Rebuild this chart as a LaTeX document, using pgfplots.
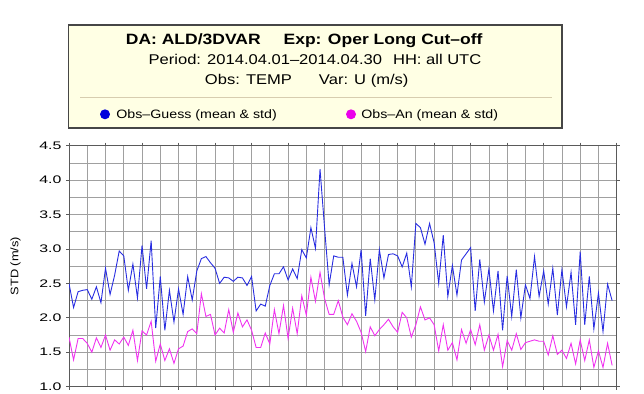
\documentclass[border=0pt]{standalone}
\usepackage{pgfplots}
\usepackage{pgfplotstable}
\pgfplotsset{compat=1.18}
\usepackage{fontspec}
\setmainfont{Liberation Sans}[FakeStretch=1.17]
\newfontfamily\tickfont{Liberation Sans}[FakeStretch=1.45]
\definecolor{boxfill}{RGB}{255,255,228}
\definecolor{boxedge}{RGB}{70,70,70}
\definecolor{sepline}{RGB}{215,205,175}
\definecolor{gridc}{RGB}{160,160,160}
\definecolor{framec}{RGB}{90,90,90}
\definecolor{gline}{RGB}{40,45,225}
\definecolor{aline}{RGB}{240,50,240}
\definecolor{gdot}{RGB}{0,0,220}
\definecolor{adot}{RGB}{235,0,235}

\pgfplotstableread{
i g a
0 2.50 1.72
1 2.15 1.39
2 2.38 1.70
3 2.40 1.70
4 2.41 1.63
5 2.27 1.50
6 2.45 1.71
7 2.22 1.57
8 2.72 1.75
9 2.34 1.53
10 2.62 1.68
11 2.97 1.62
12 2.90 1.72
13 2.40 1.60
14 2.78 1.82
15 2.29 1.38
16 3.05 1.81
17 2.42 1.75
18 3.12 1.95
19 1.85 1.37
20 2.60 1.62
21 1.82 1.38
22 2.40 1.55
23 1.94 1.34
24 2.42 1.55
25 2.05 1.59
26 2.60 1.80
27 2.26 1.84
28 2.68 1.77
29 2.86 2.35
30 2.89 2.02
31 2.80 2.05
32 2.72 1.75
33 2.50 1.85
34 2.59 1.78
35 2.58 2.12
36 2.53 1.79
37 2.59 2.07
38 2.58 1.87
39 2.47 1.97
40 2.60 1.82
41 2.10 1.57
42 2.20 1.57
43 2.17 1.78
44 2.47 1.62
45 2.64 2.12
46 2.64 1.77
47 2.74 2.18
48 2.55 1.70
49 2.71 2.14
50 2.57 1.77
51 2.99 2.32
52 2.87 2.04
53 3.31 2.59
54 3.01 2.24
55 4.16 2.66
56 3.30 2.28
57 2.48 2.05
58 2.90 2.05
59 2.88 2.25
60 2.88 2.01
61 2.33 1.90
62 2.79 2.06
63 2.45 1.95
64 2.99 1.79
65 2.03 1.51
66 2.86 1.87
67 2.26 1.74
68 2.99 1.83
69 2.58 1.90
70 2.92 1.98
71 2.93 1.87
72 2.90 1.79
73 2.74 2.08
74 2.94 2.00
75 2.45 1.72
76 3.37 1.90
77 3.31 2.16
78 3.07 1.97
79 3.37 2.00
80 3.09 1.90
81 2.50 1.52
82 3.20 1.90
83 2.31 1.53
84 2.76 1.64
85 2.33 1.39
86 2.84 1.83
87 2.93 1.63
88 3.02 1.83
89 2.10 1.61
90 2.85 1.90
91 2.23 1.53
92 2.71 1.75
93 2.10 1.53
94 2.68 1.76
95 1.82 1.29
96 2.61 1.67
97 2.02 1.53
98 2.70 1.77
99 2.00 1.54
100 2.48 1.64
101 2.28 1.66
102 2.89 1.68
103 2.31 1.66
104 2.68 1.66
105 2.20 1.46
106 2.72 1.74
107 2.04 1.47
108 2.70 1.53
109 2.16 1.41
110 2.66 1.63
111 1.90 1.33
112 2.96 1.68
113 1.90 1.38
114 2.60 1.68
115 1.84 1.28
116 2.36 1.52
117 1.80 1.28
118 2.49 1.63
119 2.25 1.31
}\datatable

\begin{document}
\begin{tikzpicture}
\path[use as bounding box] (0,0) rectangle (644bp,394bp);
% title box
\draw[boxedge, line width=1.6bp, fill=boxfill] (68.3bp,266bp) rectangle (561.7bp,369bp);
\draw[sepline, line width=0.8bp] (80bp,296.3bp) -- (552bp,296.3bp);
\node[anchor=base, inner sep=0pt] at (304.2bp,349bp) {\fontsize{15}{18}\selectfont\bfseries DA: ALD/3DVAR\hspace{23bp}Exp: Oper Long Cut–off};
\node[anchor=base, inner sep=0pt] at (315bp,329bp) {\fontsize{14.2}{17}\selectfont Period: 2014.04.01–2014.04.30\hspace{11bp}HH: all UTC};
\node[anchor=base, inner sep=0pt] at (306.7bp,309bp) {\fontsize{14.2}{17}\selectfont Obs: TEMP\hspace{27bp}Var: U (m/s)};
\fill[gdot] (105bp,279.7bp) circle (5bp);
\node[anchor=base west, inner sep=0pt] at (116.2bp,275bp) {\fontsize{12.2}{14}\selectfont Obs–Guess (mean \& std)};
\fill[adot] (351bp,279.7bp) circle (5bp);
\node[anchor=base west, inner sep=0pt] at (361.2bp,275bp) {\fontsize{12.2}{14}\selectfont Obs–An (mean \& std)};
\node[rotate=90, inner sep=0pt] at (15.5bp,128bp) {\fontsize{11}{13}\selectfont STD (m/s)};
\begin{axis}[
  at={(69bp,7.3bp)}, anchor=south west,
  scale only axis, width=547.7bp, height=241bp,
  xmin=0, xmax=30, ymin=1, ymax=4.5,
  xtick={0,2,...,30}, minor x tick num=1,
  ytick={1,1.5,...,4.5}, minor y tick num=1,
  xticklabels={},
  grid=both,
  major grid style={gridc, line width=0.8bp},
  minor grid style={gridc, line width=0.8bp},
  axis line style={framec, line width=0.9bp},
  tick style={framec, line width=0.8bp},
  tick align=outside, major tick length=3bp, minor tick length=0pt,
  yticklabel style={/pgf/number format/fixed, /pgf/number format/fixed zerofill, /pgf/number format/precision=1, /pgf/number format/assume math mode=true, font=\tickfont\fontsize{11}{13}\selectfont, xshift=-1bp},
]
\addplot[aline, line width=0.9bp, mark=none] table[x expr=\thisrow{i}/4, y=a] {\datatable};
\addplot[gline, line width=0.9bp, mark=none] table[x expr=\thisrow{i}/4, y=g] {\datatable};
\end{axis}
\end{tikzpicture}
\end{document}
